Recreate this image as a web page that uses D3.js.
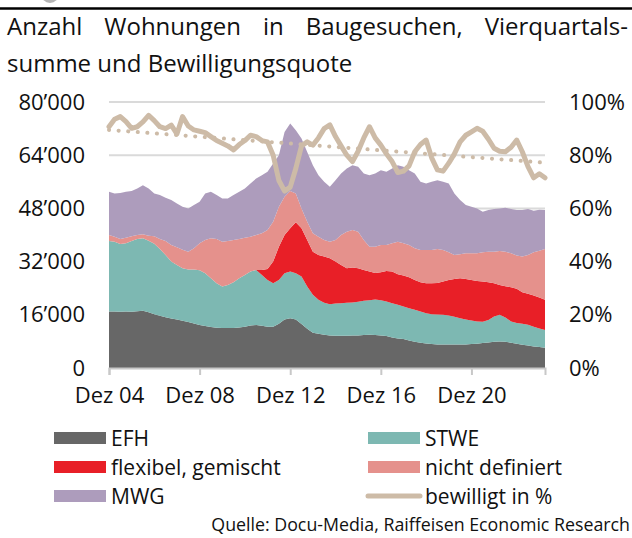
<!DOCTYPE html>
<html>
<head>
<meta charset="utf-8">
<script src="https://cdn.jsdelivr.net/npm/d3@7"></script>
<style>
  body { margin: 0; background: #fff; }
  svg { display: block; font-family: "Open Sans", sans-serif; }
</style>
</head>
<body>
<svg></svg>
<script>
// quarterly values, thousands of dwellings, Dez 04 .. Mär 24
let efh = [17.0,17.0,16.9,17.0,16.9,17.1,17.2,16.8,16.2,15.7,15.3,14.9,14.6,14.2,13.8,13.4,12.9,12.6,12.3,12.1,
  12.0,12.0,12.0,12.2,12.4,12.8,12.9,12.7,12.4,12.4,13.3,14.6,15.0,14.6,13.2,11.8,10.6,10.3,10.0,9.8,
  9.7,9.7,9.7,9.8,9.8,9.9,10.0,9.9,9.8,9.6,9.2,8.9,8.7,8.3,7.9,7.6,7.4,7.2,7.1,7.1,
  7.1,7.1,7.1,7.1,7.2,7.3,7.5,7.7,7.9,8.0,7.9,7.6,7.3,7.0,6.8,6.5,6.3,6.1]
let stwe = [21.2,21.0,20.4,20.5,21.3,21.7,21.8,21.5,21.2,20.1,18.7,17.1,16.4,15.8,15.8,16.2,16.5,15.9,14.7,13.4,
  12.5,13.0,13.8,14.8,15.6,16.2,16.6,15.3,14.1,13.1,13.2,13.9,14.0,13.9,14.3,12.7,11.4,10.2,9.6,9.4,
  9.7,9.8,9.9,9.9,10.1,10.3,10.4,10.7,10.6,10.4,10.3,10.1,9.8,9.7,9.6,9.4,9.1,9.0,9.0,8.9,
  8.7,8.3,7.9,7.5,7.1,6.7,6.4,6.7,7.6,8.0,7.3,6.4,6.2,6.3,6.2,5.9,5.6,5.3]
let flexibel = [0,0,0,0,0,0,0,0,0,0,0,0,0,0,0,0,0,0,0,0,
  0,0,0,0,0,0,0,1.5,3.3,6.5,10.0,11.5,13.0,15.3,14.5,14.0,13.0,13.5,13.9,13.8,
  12.6,11.5,10.4,10.5,10.1,9.3,8.6,8.0,8.4,9.2,9.5,9.2,9.3,9.3,9.0,8.8,9.0,9.3,9.5,10.0,
  10.7,11.4,12.0,12.2,12.2,12.2,12.1,11.4,10.0,9.0,9.4,10.3,10.3,9.5,9.3,9.4,9.3,9.1]
let nichtDefiniert = [1.8,1.5,1.5,1.7,1.4,1.2,1.2,1.5,2.2,3.0,4.2,5.0,5.3,5.6,5.4,6.4,8.1,10.0,12.0,13.3,
  13.5,13.2,12.7,11.8,11.2,10.5,10.5,11.0,11.7,12.0,12.0,11.5,11.2,8.7,6.0,5.5,5.5,5.5,5.0,5.0,
  6.5,9.0,11.0,11.3,11.0,9.0,7.5,7.9,8.2,7.8,8.5,9.8,9.7,9.7,9.5,9.7,10.0,10.0,10.2,9.5,
  8.3,7.2,7.2,7.7,8.0,8.3,8.8,9.2,9.5,10.2,10.4,10.2,10.0,10.7,11.7,13.0,14.1,15.3]
let mwg = [13.0,13.0,13.8,13.8,13.6,14.0,14.8,14.2,12.9,13.2,13.0,13.5,13.2,12.9,13.0,13.0,12.5,14.0,14.0,13.2,
  13.0,12.8,13.5,14.2,14.8,16.0,17.0,17.5,17.5,17.5,15.5,19.5,20.3,19.0,21.0,21.0,20.5,18.5,17.5,16.5,
  18.0,18.5,19.0,19.5,19.5,20.0,21.5,22.0,22.5,22.0,22.5,23.0,23.0,22.5,22.5,20.5,20.0,20.5,20.7,20.5,
  20.7,18.5,16.3,14.5,14.0,13.5,12.2,12.5,12.8,12.8,13.2,13.3,13.7,14.0,13.8,12.5,12.3,11.7]
// Bewilligungsquote in %
let bewilligt = [90.7,93.5,94.5,92.6,90.1,90.7,92.5,95.0,93.0,90.7,90.0,91.3,88.0,94.5,91.0,89.5,89.0,88.5,87.0,85.5,
  84.5,83.5,82.0,84.0,85.5,87.5,87.0,85.5,85.0,80.0,70.5,66.5,68.0,75.0,83.5,85.0,83.8,86.5,90.0,91.4,
  87.0,83.5,80.0,77.6,81.5,86.5,90.7,86.5,83.8,80.5,77.6,73.5,74.0,76.0,81.3,84.0,85.7,79.0,74.5,74.0,
  77.0,80.5,85.0,87.5,88.8,90.1,89.0,86.0,82.6,81.5,81.3,83.0,85.7,81.3,75.7,71.5,73.0,71.5]
let trendValues = [89.5, 77.2]

let seriesNames = ['EFH', 'STWE', 'flexibel, gemischt', 'nicht definiert', 'MWG']
let seriesColors = ['#676767', '#7db8b2', '#e81f27', '#e5918c', '#ad9cbc']
let lineName = 'bewilligt in %'
let lineColor = '#cdbba7'

let yTicks = [0, 16, 32, 48, 64, 80]
let yTickLabels = ['0', '16’000', '32’000', '48’000', '64’000', '80’000']
let pctTicks = [0, 20, 40, 60, 80, 100]
let pctTickLabels = ['0%', '20%', '40%', '60%', '80%', '100%']
let xTickYears = [2004, 2008, 2012, 2016, 2020]
let xTickLabels = ['Dez 04', 'Dez 08', 'Dez 12', 'Dez 16', 'Dez 20']

let titleLine1 = ['Anzahl', 'Wohnungen', 'in', 'Baugesuchen,', 'Vierquartals-']
let titleLine2 = 'summe und Bewilligungsquote'
let source = 'Quelle: Docu-Media, Raiffeisen Economic Research'

let width = 632
let height = 538
let plotLeft = 109, plotRight = 545, plotTop = 102, plotBottom = 368
let tickFont = 22

let dates = d3.timeMonth.range(new Date(2004, 11, 1), new Date(2024, 3, 1), 3)

let data = dates.map((d, i) => ({
  date: d,
  'EFH': efh[i],
  'STWE': stwe[i],
  'flexibel, gemischt': flexibel[i],
  'nicht definiert': nichtDefiniert[i],
  'MWG': mwg[i],
  bewilligt: bewilligt[i]
}))

let svg = d3.select('svg').attr('width', width).attr('height', height)

let xScale = d3.scaleTime()
  .domain([dates[0], dates[dates.length - 1]])
  .range([plotLeft, plotRight])
let yScale = d3.scaleLinear().domain([0, 80]).range([plotBottom, plotTop])
let pScale = d3.scaleLinear().domain([0, 100]).range([plotBottom, plotTop])

// logo remnant and top rule
svg.append('circle')
  .attr('cx', 50).attr('cy', -6).attr('r', 9)
  .attr('fill', '#b5b5b5')
svg.append('line')
  .attr('x1', 0).attr('x2', width)
  .attr('y1', 8.5).attr('y2', 8.5)
  .attr('stroke', '#000').attr('stroke-width', 2.5)

// title, first line justified
let t1 = svg.append('g')
let words = t1.selectAll('text').data(titleLine1).enter().append('text')
  .attr('y', 35)
  .attr('font-size', 24)
  .attr('fill', '#111')
  .text(d => d)
let widths = []
words.each(function() { widths.push(this.getComputedTextLength()) })
let gap = (628 - 7 - d3.sum(widths)) / (titleLine1.length - 1)
let xPos = 7
words.attr('x', (d, i) => {
  let x = xPos
  xPos += widths[i] + gap
  return x
})
svg.append('text')
  .attr('x', 7).attr('y', 72)
  .attr('font-size', 24)
  .attr('fill', '#111')
  .text(titleLine2)

// grid
svg.append('g')
  .selectAll('line')
  .data(yTicks.slice(1))
  .enter()
  .append('line')
  .attr('x1', plotLeft).attr('x2', plotRight)
  .attr('y1', d => yScale(d)).attr('y2', d => yScale(d))
  .attr('stroke', '#dadada').attr('stroke-width', 2)

// stacked areas
let stack = d3.stack().keys(seriesNames)
let layers = stack(data)
let area = d3.area()
  .x(d => xScale(d.data.date))
  .y0(d => yScale(d[0]))
  .y1(d => yScale(d[1]))

svg.append('g')
  .selectAll('path')
  .data(layers)
  .enter()
  .append('path')
  .attr('d', area)
  .attr('fill', (d, i) => seriesColors[i])

// x axis
let xAxis = d3.axisBottom(xScale)
  .tickValues(xTickYears.map(y => new Date(y, 11, 1)))
  .tickFormat((d, i) => xTickLabels[i])
  .tickSize(7)
  .tickPadding(12)

let gx = svg.append('g')
  .attr('transform', 'translate(0,' + plotBottom + ')')
  .call(xAxis)
gx.select('.domain').attr('stroke', '#c8c8c8').attr('stroke-width', 2)
gx.selectAll('.tick line').attr('stroke', '#c8c8c8').attr('stroke-width', 2)
gx.selectAll('.tick text')
  .attr('font-size', tickFont)
  .attr('font-family', '"Open Sans", sans-serif')
  .attr('fill', '#111')

// y axes
let yAxis = d3.axisLeft(yScale)
  .tickValues(yTicks)
  .tickFormat((d, i) => yTickLabels[i])
  .tickSize(0)
  .tickPadding(24)
let gy = svg.append('g')
  .attr('transform', 'translate(' + plotLeft + ',0)')
  .call(yAxis)
gy.select('.domain').remove()
gy.selectAll('.tick text')
  .attr('font-size', tickFont)
  .attr('font-family', '"Open Sans", sans-serif')
  .attr('fill', '#111')

let pAxis = d3.axisRight(pScale)
  .tickValues(pctTicks)
  .tickFormat((d, i) => pctTickLabels[i])
  .tickSize(0)
  .tickPadding(24)
let gp = svg.append('g')
  .attr('transform', 'translate(' + plotRight + ',0)')
  .call(pAxis)
gp.select('.domain').remove()
gp.selectAll('.tick text')
  .attr('font-size', tickFont)
  .attr('font-family', '"Open Sans", sans-serif')
  .attr('fill', '#111')

// trend (dotted)
let trendDates = [dates[0], dates[dates.length - 1]]
svg.append('path')
  .datum(trendValues)
  .attr('d', d3.line().x((d, i) => xScale(trendDates[i])).y(d => pScale(d)))
  .attr('fill', 'none')
  .attr('stroke', lineColor)
  .attr('stroke-width', 4)
  .attr('stroke-linecap', 'round')
  .attr('stroke-dasharray', '0.1 9.5')

// bewilligt line
svg.append('path')
  .datum(data)
  .attr('d', d3.line().x(d => xScale(d.date)).y(d => pScale(d.bewilligt)))
  .attr('fill', 'none')
  .attr('stroke', lineColor)
  .attr('stroke-width', 5)
  .attr('stroke-linejoin', 'round')
  .attr('stroke-linecap', 'round')

// legend
let legendItems = seriesNames.map((n, i) => ({ name: n, color: seriesColors[i], type: 'area' }))
legendItems.push({ name: lineName, color: lineColor, type: 'line' })
let legend = svg.append('g')
let li = legend.selectAll('g')
  .data(legendItems)
  .enter()
  .append('g')
  .attr('transform', (d, i) => 'translate(' + (i % 2 === 0 ? 54 : 368) + ',' + (438 + Math.floor(i / 2) * 29) + ')')
li.filter(d => d.type === 'area')
  .append('rect')
  .attr('x', 0).attr('y', -6)
  .attr('width', 52).attr('height', 12)
  .attr('fill', d => d.color)
li.filter(d => d.type === 'line')
  .append('line')
  .attr('x1', 0).attr('x2', 52)
  .attr('y1', 0).attr('y2', 0)
  .attr('stroke', d => d.color)
  .attr('stroke-width', 5)
  .attr('stroke-linecap', 'round')
li.append('text')
  .attr('x', 57).attr('y', 7.5)
  .attr('font-size', 21)
  .attr('fill', '#111')
  .text(d => d.name)

// source
svg.append('text')
  .attr('x', 630).attr('y', 531)
  .attr('text-anchor', 'end')
  .attr('font-size', 17.8)
  .attr('fill', '#111')
  .text(source)
</script>
</body>
</html>
